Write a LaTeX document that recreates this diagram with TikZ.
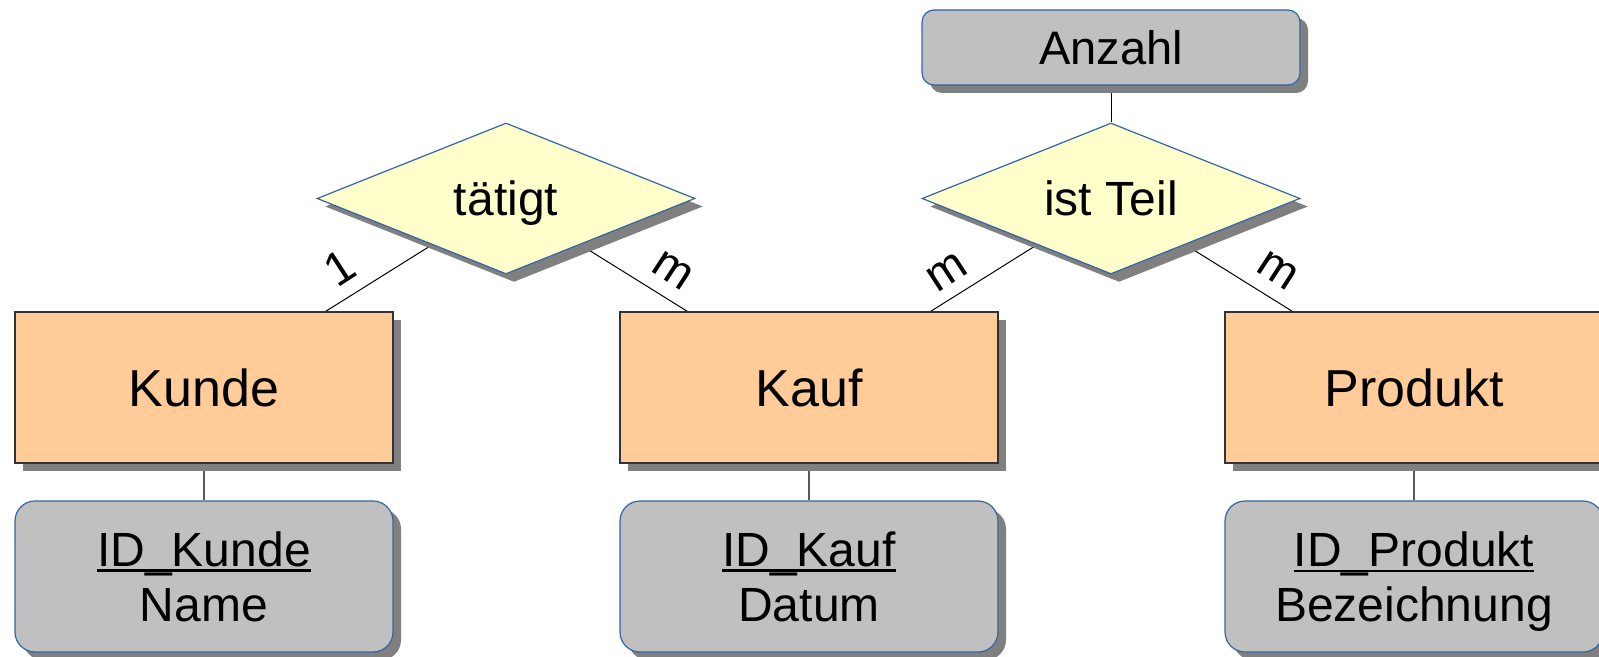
\documentclass[tikz,border=0pt]{standalone}
\usepackage{fontspec}
\setmainfont{Liberation Sans}
\usetikzlibrary{shapes.geometric,shadows,backgrounds}

\definecolor{entityfill}{HTML}{FFCC99}
\definecolor{relfill}{HTML}{FFFFCC}
\definecolor{attrfill}{HTML}{C0C0C0}
\definecolor{shadowgray}{HTML}{808080}
\definecolor{edgeblue}{HTML}{3465A4}

% underline for key attributes, drawn at a fixed depth below the baseline
\newcommand\keyattr[1]{\setbox0=\hbox{#1}\rlap{\rule[-2.8pt]{\wd0}{1.2pt}}\box0}
% zero-width label so the diamond keeps its fixed size
\newcommand\relname[1]{\makebox[0pt]{#1}}

\tikzset{
  shade/.style={drop shadow={shadow xshift=4pt, shadow yshift=-4pt, opacity=1, fill=shadowgray}},
  entity/.style={rectangle, draw=black!80, line width=0.6pt, fill=entityfill, shade,
    minimum width=189pt, minimum height=75.5pt, inner sep=0pt,
    font=\fontsize{26pt}{30pt}\selectfont},
  relation/.style={diamond, draw=edgeblue, line width=0.6pt, fill=relfill, shade,
    minimum width=189pt, minimum height=75.5pt, inner sep=0pt,
    text height=17pt, text depth=0pt,
    font=\fontsize{24pt}{28pt}\selectfont},
  attrbox/.style={rectangle, rounded corners=10pt, draw=edgeblue, line width=0.6pt,
    fill=attrfill, shade, minimum width=189pt, minimum height=75.5pt, inner sep=0pt,
    align=center, font=\fontsize{24pt}{27.5pt}\selectfont},
  smallattr/.style={attrbox, rounded corners=6pt, minimum height=37.5pt,
    font=\fontsize{23.5pt}{27pt}\selectfont},
  card/.style={font=\fontsize{23.5pt}{27pt}\selectfont, inner sep=0pt},
  link/.style={draw=black, line width=0.5pt},
  attrlink/.style={draw=black!65, line width=0.6pt}
}

\begin{document}
\begin{tikzpicture}[x=0.5pt, y=-0.5pt]
  \useasboundingbox (0,0) rectangle (1599,657);

  % entities
  \node[entity] (kunde)   at (204,387.5)  {Kunde};
  \node[entity] (kauf)    at (809,387.5)  {Kauf};
  \node[entity] (produkt) at (1414,387.5) {Produkt};

  % attributes of the entities
  \node[attrbox] (akunde)   at (204,576.5)  {\keyattr{ID\_Kunde}\\Name};
  \node[attrbox] (akauf)    at (809,576.5)  {\keyattr{ID\_Kauf}\\Datum};
  \node[attrbox] (aprodukt) at (1414,576.5) {\keyattr{ID\_Produkt}\\\smash{Bezeichnung}};

  % relationships
  \node[relation] (taetigt) at (506,198.5)  {\relname{tätigt}};
  \node[relation] (istteil) at (1111,198.5) {\relname{ist Teil}};
  \node[smallattr] (anzahl) at (1111,47.5)  {Anzahl};

  % docking points on the top edges of the entities
  \coordinate (kundeR)   at ([xshift=-34pt]kunde.north east);
  \coordinate (kaufL)    at ([xshift=34pt]kauf.north west);
  \coordinate (kaufR)    at ([xshift=-34pt]kauf.north east);
  \coordinate (produktL) at ([xshift=34pt]produkt.north west);

  \begin{pgfonlayer}{background}
    \draw[link] (kundeR) -- (taetigt.center);
    \draw[link] (kaufL) -- (taetigt.center);
    \draw[link] (kaufR) -- (istteil.center);
    \draw[link] (produktL) -- (istteil.center);
    \draw[link] (anzahl) -- (istteil);
    \draw[attrlink] (kunde) -- (akunde);
    \draw[attrlink] (kauf) -- (akauf);
    \draw[attrlink] (produkt) -- (aprodukt);
  \end{pgfonlayer}

  % cardinalities
  \node[card, rotate=33]  (c1) at (340,268)  {1};
  \node[card, rotate=-33] (c2) at (673,271)  {m};
  \node[card, rotate=33]  (c3) at (947,272)  {m};
  \node[card, rotate=-33] (c4) at (1278,271) {m};
\end{tikzpicture}
\end{document}
